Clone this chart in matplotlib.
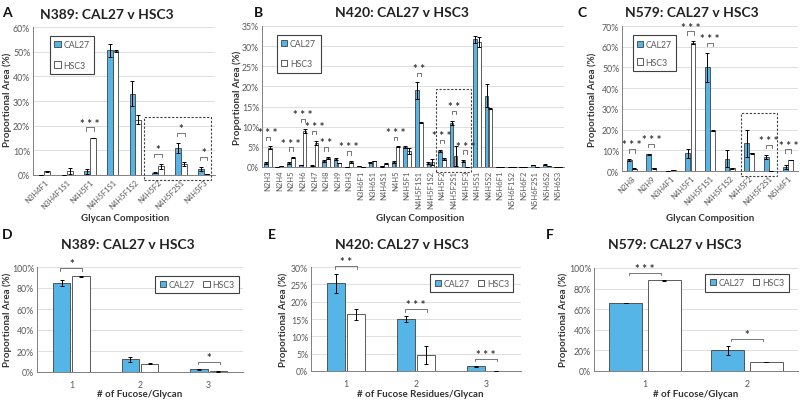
import numpy as np
import matplotlib
matplotlib.use("Agg")
import matplotlib.pyplot as plt
from matplotlib.patches import Patch, Rectangle
from matplotlib.ticker import FuncFormatter, MultipleLocator

# ---- panel A: N389 glycan compositions
a_cats = ["N3H4F1", "N3H4F1S1", "N4H5F1", "N4H5F1S1", "N4H5F1S2", "N4H5F2", "N4H5F2S1", "N4H5F3"]
a_cal = [0, 0, 1.5, 50.5, 33.0, 1.0, 11.0, 2.5]
a_cal_err = [0, 0, 1.0, 2.5, 5.0, 0.3, 2.0, 0.8]
a_hsc = [1.5, 1.5, 15.0, 50.3, 22.5, 3.5, 4.5, 0.5]
a_hsc_err = [0.2, 1.2, 0.1, 0.5, 2.0, 1.0, 0.7, 0.1]
a_sig = {"N4H5F1": "***", "N4H5F2": "*", "N4H5F2S1": "*", "N4H5F3": "*"}

# ---- panel B: N420 glycan compositions
b_cats = ["N2H3", "N2H4", "N2H5", "N2H6", "N2H7", "N2H8", "N2H9", "N3H3", "N3H6F1", "N3H6S1",
          "N4H4S1", "N4H5", "N4H5F1", "N4H5F1S1", "N4H5F1S2", "N4H5F2", "N4H5F2S1", "N4H5F3",
          "N4H5S1", "N4H5S2", "N5H6F1", "N5H6F1S2", "N5H6F2", "N5H6F2S1", "N5H6S2", "N5H6S3"]
b_cal = [1.0, 0, 1.0, 0.5, 0.3, 1.5, 2.0, 0, 0.2, 1.2, 0.2, 1.3, 5.0, 19.0, 1.0, 4.0, 11.0, 1.5,
         31.7, 17.7, 0, 0, 0, 0.5, 0.6, 0]
b_cal_err = [0.2, 0, 0.2, 0.1, 0.1, 0.3, 0.2, 0, 0, 0.1, 0.1, 0.3, 0.3, 2.0, 0.3, 0.3, 0.5, 0.2,
             0.8, 2.8, 0, 0, 0, 0.1, 0.1, 0]
b_hsc = [4.8, 0.3, 2.3, 9.0, 6.0, 2.3, 1.0, 1.2, 0, 1.5, 0.8, 5.0, 4.0, 11.0, 1.3, 2.0, 2.7, 0,
         31.0, 14.5, 0, 0, 0, 0, 0.3, 0.1]
b_hsc_err = [0.3, 0, 0.1, 0.5, 0.5, 0.2, 0.1, 0.3, 0, 0.1, 0.1, 0.1, 0.8, 0.2, 0.8, 0.2, 2.5, 0,
             1.2, 0.2, 0, 0, 0, 0, 0, 0]
b_sig = {"N2H3": "***", "N2H5": "***", "N2H6": "***", "N2H7": "***", "N2H8": "**", "N3H3": "***",
         "N4H5": "***", "N4H5F1S1": "**", "N4H5F2": "***", "N4H5F2S1": "**", "N4H5F3": "***"}
b_hsc_gray = ["N4H5F2S1"]

# ---- panel C: N579 glycan compositions
c_cats = ["N2H8", "N2H9", "N3H4F1", "N4H5F1", "N4H5F1S1", "N4H5F1S2", "N4H5F2", "N4H5F2S1", "N5H6F1"]
c_cal = [5.2, 8.0, 0, 8.5, 50.0, 6.0, 13.5, 6.8, 2.0]
c_cal_err = [0.5, 0.3, 0, 2.2, 7.0, 4.0, 6.5, 1.0, 0.8]
c_hsc = [1.2, 1.3, 0.3, 62.0, 19.5, 1.3, 8.5, 0.2, 5.3]
c_hsc_err = [0.2, 0.1, 0, 0.6, 0.3, 0.3, 0.2, 0, 0.2]
c_sig = {"N2H8": "***", "N2H9": "***", "N4H5F1": "***", "N4H5F1S1": "***", "N4H5F2S1": "***", "N5H6F1": "***"}

# ---- panels D-F: fucose per glycan
d_cats = ["1", "2", "3"]
d_cal = [85.0, 12.0, 2.5]
d_cal_err = [3.0, 2.5, 0.3]
d_hsc = [91.0, 8.0, 0.5]
d_hsc_err = [0.7, 0.4, 0.1]
d_sig = {"1": "*", "3": "*"}

e_cats = ["1", "2", "3"]
e_cal = [25.3, 15.0, 1.3]
e_cal_err = [2.8, 0.8, 0.2]
e_hsc = [16.3, 4.6, 0.1]
e_hsc_err = [1.6, 2.6, 0]
e_sig = {"1": "**", "2": "***", "3": "***"}

f_cats = ["1", "2"]
f_cal = [66.0, 20.0]
f_cal_err = [0.4, 4.5]
f_hsc = [88.0, 8.5]
f_hsc_err = [0.3, 0.2]
f_sig = {"1": "***", "2": "*"}

BLUE = "#55B5E7"
EDGE = "#404040"
GRAY_TXT = "#595959"

plt.rcParams["font.family"] = ["Lato", "DejaVu Sans"]

W, H = 800, 402
fig = plt.figure(figsize=(8, 4.02), dpi=100)


def px_axes(left, top, right, bottom):
    return fig.add_axes([left / W, 1 - bottom / H, (right - left) / W, (bottom - top) / H])


def ftext(x, y, s, **kw):
    fig.text(x / W, 1 - y / H, s, **kw)


def draw(ax, cats, cal, cal_err, hsc, hsc_err, sig, ymax, step, gray=(), bar_w=0.25, off=0.13):
    x = np.arange(len(cats))
    ekw = dict(elinewidth=0.7, capsize=1.5, capthick=0.7, ecolor="black")
    ax.bar(x - off, cal, bar_w, yerr=cal_err, color=BLUE, edgecolor=EDGE, lw=0.6,
           error_kw=ekw, zorder=3)
    faces = ["#A6A6A6" if c in gray else "white" for c in cats]
    ax.bar(x + off, hsc, bar_w, yerr=hsc_err, color=faces, edgecolor=EDGE, lw=0.6,
           error_kw=ekw, zorder=3)
    ax.set_xlim(x[0] - 0.5, x[-1] + 0.5)
    ax.set_ylim(0, ymax)
    ax.yaxis.set_major_locator(MultipleLocator(step))
    ax.yaxis.set_major_formatter(FuncFormatter(lambda v, p: f"{v:.0f}%"))
    ax.grid(axis="y", color="#D9D9D9", lw=0.6, zorder=0)
    ax.set_axisbelow(True)
    for s in ["top", "right"]:
        ax.spines[s].set_visible(False)
    for s in ["left", "bottom"]:
        ax.spines[s].set_color("#808080")
        ax.spines[s].set_linewidth(0.7)
    ax.tick_params(length=0, labelsize=6.3, colors=GRAY_TXT, pad=2)
    ax.set_xticks(x)
    ax.set_xticklabels(cats)
    for name, stars in sig.items():
        i = cats.index(name)
        top = max(cal[i] + cal_err[i], hsc[i] + hsc_err[i]) + 0.07 * ymax
        h = 0.025 * ymax
        ax.plot([i - 0.16, i - 0.16, i + 0.16, i + 0.16], [top - h, top, top, top - h],
                color="#606060", lw=0.6, clip_on=False, zorder=4)
        ax.text(i, top - 0.01 * ymax, " ".join(stars), ha="center", va="bottom", fontsize=8,
                fontweight="bold", color="#333333", clip_on=False)


def legend(ax, anchor, loc, ncol, spacing):
    handles = [Patch(facecolor=BLUE, edgecolor=EDGE, lw=0.6, label="CAL27"),
               Patch(facecolor="white", edgecolor=EDGE, lw=0.6, label="HSC3")]
    lg = ax.legend(handles=handles, loc=loc, bbox_to_anchor=anchor, ncol=ncol, fontsize=6.3,
                   handlelength=0.7, handleheight=0.7, handletextpad=0.3, labelspacing=spacing,
                   columnspacing=1.0, borderpad=0.5, fancybox=False, framealpha=1)
    lg.get_frame().set_edgecolor("#404040")
    lg.get_frame().set_linewidth(0.8)
    for t in lg.get_texts():
        t.set_color(GRAY_TXT)


def dashed_box(ax, x0, x1, ytop, ymax):
    ax.add_patch(Rectangle((x0, -0.035 * ymax), x1 - x0, ytop + 0.035 * ymax, fill=False,
                           ls=(0, (2, 1.5)), lw=0.8, edgecolor="#404040", clip_on=False, zorder=5))


# ---- top row
axA = px_axes(33, 28, 215, 176)
draw(axA, a_cats, a_cal, a_cal_err, a_hsc, a_hsc_err, a_sig, 60, 10)
plt.setp(axA.get_xticklabels(), rotation=45, ha="right", rotation_mode="anchor", fontsize=5.5)
legend(axA, (0.07, 0.97), "upper left", 1, 1.3)
dashed_box(axA, a_cats.index("N4H5F2") - 0.6, a_cats.index("N4H5F3") + 0.33, 23.5, 60)

axB = px_axes(262, 27, 564, 168)
draw(axB, b_cats, b_cal, b_cal_err, b_hsc, b_hsc_err, b_sig, 35, 5, gray=b_hsc_gray, bar_w=0.3, off=0.17)
plt.setp(axB.get_xticklabels(), rotation=90, fontsize=5.5)
legend(axB, (0.035, 0.97), "upper left", 1, 1.3)
dashed_box(axB, b_cats.index("N4H5F2") - 0.5, b_cats.index("N4H5F3") + 0.5, 19.4, 35)

axC = px_axes(622, 27, 798, 172)
draw(axC, c_cats, c_cal, c_cal_err, c_hsc, c_hsc_err, c_sig, 70, 10)
plt.setp(axC.get_xticklabels(), rotation=45, ha="right", rotation_mode="anchor", fontsize=5.5)
legend(axC, (0.035, 0.965), "upper left", 1, 1.0)
dashed_box(axC, c_cats.index("N4H5F2") - 0.4, c_cats.index("N4H5F2S1") + 0.45, 28, 70)

# ---- bottom row
axD = px_axes(37, 268, 243, 373)
draw(axD, d_cats, d_cal, d_cal_err, d_hsc, d_hsc_err, d_sig, 100, 20, bar_w=0.25, off=0.14)
legend(axD, (1.0, 0.96), "upper right", 2, 0.5)

axE = px_axes(311, 268, 521, 372)
draw(axE, e_cats, e_cal, e_cal_err, e_hsc, e_hsc_err, e_sig, 30, 5, bar_w=0.25, off=0.14)
legend(axE, (0.985, 0.97), "upper right", 2, 0.5)

axF = px_axes(594, 269, 798, 372)
draw(axF, f_cats, f_cal, f_cal_err, f_hsc, f_hsc_err, f_sig, 100, 20, bar_w=0.33, off=0.19)
legend(axF, (0.975, 0.985), "upper right", 2, 0.5)

for ax in [axD, axE, axF]:
    ax.tick_params(axis="x", pad=6)

# ---- titles, labels, panel letters
title_kw = dict(ha="center", va="center", fontsize=10, fontweight="bold", color="#222222")
ftext(107, 15, "N389: CAL27 v HSC3", **title_kw)
ftext(402, 13, "N420: CAL27 v HSC3", **title_kw)
ftext(692, 13, "N579: CAL27 v HSC3", **title_kw)
ftext(128, 245, "N389: CAL27 v HSC3", **title_kw)
ftext(402, 245, "N420: CAL27 v HSC3", **title_kw)
ftext(675, 245, "N579: CAL27 v HSC3", **title_kw)

lab_kw = dict(ha="center", va="center", fontsize=7, fontweight="bold", color="#333333")
ftext(125, 219, "Glycan Composition", **lab_kw)
ftext(420, 219, "Glycan Composition", **lab_kw)
ftext(710, 219, "Glycan Composition", **lab_kw)
ftext(140, 395, "# of Fucose/Glycan", **lab_kw)
ftext(420, 395, "# of Fucose Residues/Glycan", **lab_kw)
ftext(696, 395, "# of Fucose/Glycan", **lab_kw)

for xx, yy in [(7, 100), (237, 98), (592, 100), (7, 320), (283, 320), (563, 320)]:
    ftext(xx, yy, "Proportional Area (%)", rotation=90, **lab_kw)

let_kw = dict(ha="left", va="center", fontsize=10, fontweight="bold", color="#111111")
for s, xx, yy in [("A", 2, 13), ("B", 254, 13), ("C", 578, 13), ("D", 2, 235), ("E", 268, 235), ("F", 546, 235)]:
    ftext(xx, yy, s, **let_kw)

fig.savefig("out.png", dpi=100)
